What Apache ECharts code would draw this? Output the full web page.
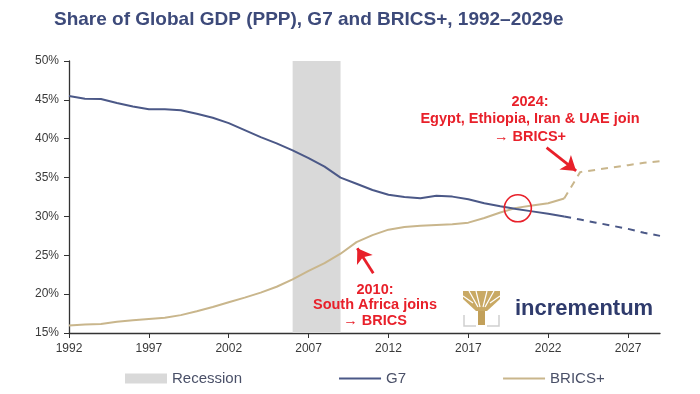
<!DOCTYPE html>
<html>
<head>
<meta charset="utf-8">
<script src="https://cdn.jsdelivr.net/npm/echarts@6/dist/echarts.min.js"></script>
<style>html,body{margin:0;padding:0;background:#fff}#c{width:700px;height:394px}</style>
</head>
<body>
<div id="c"></div>
<script>
const histYears = [1992,1993,1994,1995,1996,1997,1998,1999,2000,2001,2002,2003,2004,2005,2006,2007,2008,2009,2010,2011,2012,2013,2014,2015,2016,2017,2018,2019,2020,2021,2022,2023];
const g7Hist = [45.5,45.15,45.1,44.6,44.15,43.8,43.8,43.65,43.2,42.7,42.0,41.1,40.2,39.4,38.5,37.5,36.4,35.0,34.2,33.4,32.8,32.5,32.35,32.65,32.55,32.2,31.7,31.3,30.95,30.65,30.35,30.0];
const bricsHist = [15.95,16.1,16.15,16.45,16.65,16.8,16.95,17.3,17.8,18.35,18.95,19.55,20.2,20.95,21.9,23.0,24.0,25.2,26.7,27.6,28.3,28.65,28.8,28.9,29.0,29.2,29.8,30.5,31.1,31.4,31.7,32.3];
const projYears = [2023,2024,2025,2026,2027,2028,2029];
const g7Proj = [30.0,29.6,29.2,28.8,28.4,27.9,27.5];
const bricsProj = [32.3,35.7,36.0,36.3,36.6,36.9,37.1];
const recession = [2006,2009];
const xTicks = [1992,1997,2002,2007,2012,2017,2022,2027];
const crossing = [2020.1,31.05];

const pairs = (xs, ys) => xs.map((x,i)=>[x, ys[i]]);
const G7C = '#4b5887', BRC = '#c9b68c', RED = '#e8202a';
const FF = 'Liberation Sans, Arial';

const chart = echarts.init(document.getElementById('c'));
chart.setOption({
  animation:false,
  title:{text:'Share of Global GDP (PPP), G7 and BRICS+, 1992\u20132029e', left:49, top:5,
    textStyle:{fontFamily:FF, fontSize:19, fontWeight:'bold', color:'#3d4a7a'}},
  grid:{left:69, right:40, top:61, bottom:61},
  legend:{left:125, top:371, padding:0, itemGap:97, itemWidth:42, itemHeight:10,
    textStyle:{fontFamily:FF, fontSize:15, color:'#4a5068'},
    data:[{name:'Recession', icon:'rect', itemStyle:{color:'#d9d9d9'}},
          {name:'G7', icon:'path://M0,0 L42,0 L42,2.2 L0,2.2 Z', itemStyle:{color:G7C}},
          {name:'BRICS+', icon:'path://M0,0 L42,0 L42,2.2 L0,2.2 Z', itemStyle:{color:BRC}}]},
  xAxis:{type:'value', min:1992, max:2029,
    axisLine:{lineStyle:{color:'#333', width:1.3}},
    axisTick:{show:true, length:5, customValues:xTicks, lineStyle:{color:'#333'}},
    axisLabel:{customValues:xTicks, formatter:v=>String(v), margin:10,
      fontFamily:FF, fontSize:12, color:'#3a3a3a'},
    splitLine:{show:false}},
  yAxis:{type:'value', min:15, max:50, interval:5,
    axisLine:{show:true, lineStyle:{color:'#333', width:1.3}},
    axisTick:{show:true, length:5, lineStyle:{color:'#333'}},
    axisLabel:{formatter:'{value}%', margin:10, fontFamily:FF, fontSize:12, color:'#3a3a3a'},
    splitLine:{show:false}},
  series:[
    {name:'Recession', type:'line', data:[], itemStyle:{color:'#d9d9d9'},
      markArea:{silent:true, itemStyle:{color:'#d9d9d9'}, data:[[{xAxis:recession[0]},{xAxis:recession[1]}]]},
      markLine:{silent:true, symbol:['none','arrow'], symbolSize:14, label:{show:false},
        lineStyle:{color:RED, width:2.8, type:'solid'},
        data:[[{coord:[2021.9,38.85]},{coord:[2023.75,35.85]}],
              [{coord:[2011.05,22.68]},{coord:[2010.05,25.9]}]]}},
    {name:'G7', type:'line', data:pairs(histYears,g7Hist), symbol:'none', z:3,
      lineStyle:{color:G7C, width:2}, itemStyle:{color:G7C},
      markPoint:{silent:true, symbol:'circle', symbolSize:27, label:{show:false},
        itemStyle:{color:'rgba(0,0,0,0)', borderColor:RED, borderWidth:1.6},
        data:[{coord:crossing}]}},
    {name:'G7', type:'line', data:pairs(projYears,g7Proj), symbol:'none', z:3,
      lineStyle:{color:G7C, width:2, type:[7,6]}, itemStyle:{color:G7C}},
    {name:'BRICS+', type:'line', data:pairs(histYears,bricsHist), symbol:'none', z:2,
      lineStyle:{color:BRC, width:2}, itemStyle:{color:BRC}},
    {name:'BRICS+', type:'line', data:pairs(projYears,bricsProj), symbol:'none', z:2,
      lineStyle:{color:BRC, width:2, type:[7,6]}, itemStyle:{color:BRC}}
  ],
  graphic:[
    {type:'text', x:530, y:93, z:100, style:{text:'2024:\nEgypt, Ethiopia, Iran & UAE join\n\u2192 BRICS+', align:'center',
      fill:RED, font:'bold 14.5px '+FF, lineHeight:17.5}},
    {type:'text', x:375, y:282, z:100, style:{text:'2010:\nSouth Africa joins\n\u2192 BRICS', align:'center',
      fill:RED, font:'bold 14.5px '+FF, lineHeight:15.5}},
    {type:'group', x:463, y:291, z:100, children:[
      {type:'rect', shape:{x:15, y:16, width:7, height:18}, style:{fill:'#c2a05a'}},
      {type:'polygon', shape:{points:[[0,0],[37,0],[37,8],[24,20],[13,20],[0,8]]}, style:{fill:'#c9a964'}},
      {type:'polyline', shape:{points:[[6,0],[15,16]]}, style:{stroke:'#fff', lineWidth:1.2}},
      {type:'polyline', shape:{points:[[13,0],[17,16]]}, style:{stroke:'#fff', lineWidth:1.2}},
      {type:'polyline', shape:{points:[[24,0],[20,16]]}, style:{stroke:'#fff', lineWidth:1.2}},
      {type:'polyline', shape:{points:[[31,0],[22,16]]}, style:{stroke:'#fff', lineWidth:1.2}},
      {type:'polyline', shape:{points:[[0,5],[10,12]]}, style:{stroke:'#fff', lineWidth:1.2}},
      {type:'polyline', shape:{points:[[37,5],[27,12]]}, style:{stroke:'#fff', lineWidth:1.2}},
      {type:'polyline', shape:{points:[[1,24],[1,35],[13,35]]}, style:{stroke:'#cfcfcf', lineWidth:1.5, fill:null}},
      {type:'polyline', shape:{points:[[36,24],[36,35],[24,35]]}, style:{stroke:'#cfcfcf', lineWidth:1.5, fill:null}}
    ]},
    {type:'text', x:515, y:298, z:100, style:{text:'incrementum', fill:'#2f3b6c', font:'bold 22px '+FF}}
  ]
});
</script>
</body>
</html>
